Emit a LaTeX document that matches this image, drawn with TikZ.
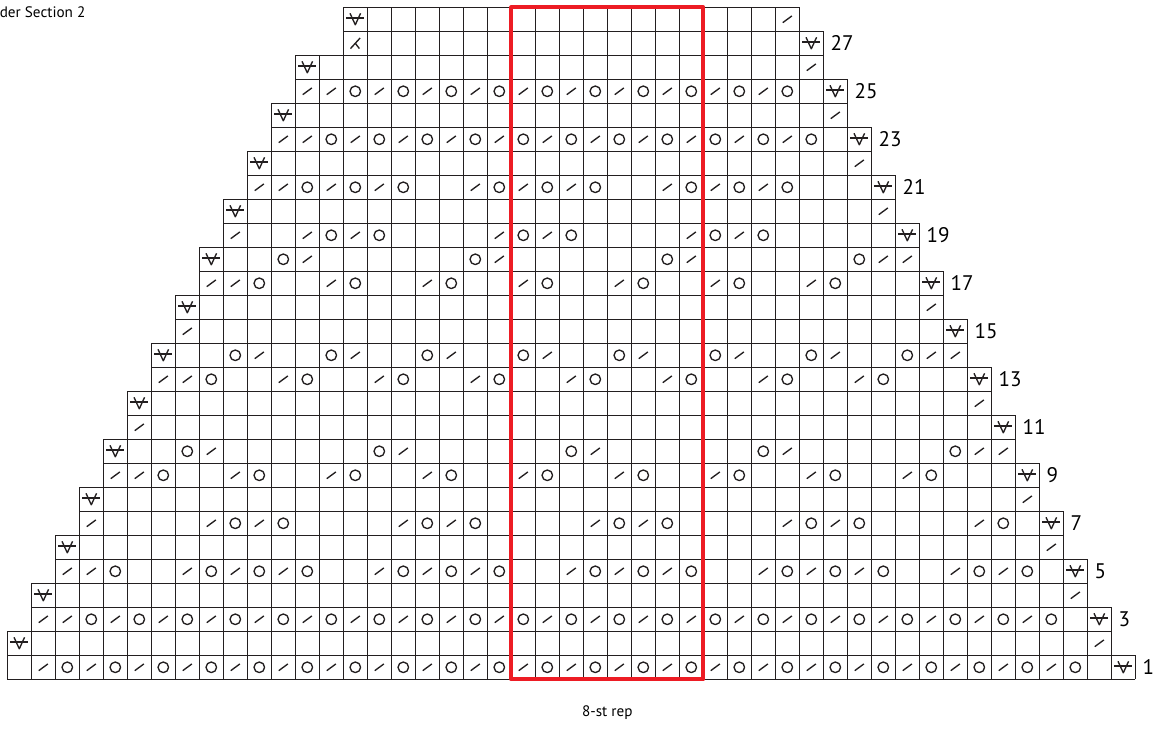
\documentclass[tikz,border=0pt]{standalone}
\usepackage{fontspec}
\setmainfont{PT Sans}
\usepackage{xcolor}
\usepackage{tikz}
\definecolor{chartink}{RGB}{35,31,32}
\definecolor{repred}{RGB}{237,28,36}
% 8-st repeats, 0 empty, 1 dec, 2 yo
\def\repA{{1,2,1,2,1,2,1,2}}
\def\repB{{2,1,2,1,2,1,2,1}}
\def\repC{{0,0,1,2,1,2,1,2}}
\def\repD{{0,0,0,1,2,1,2,0}}
\def\repE{{1,2,0,0,1,2,0,0}}
\def\repF{{0,0,2,1,0,0,0,0}}
\def\repG{{0,0,1,2,0,0,1,2}}
\def\repH{{2,1,0,0,2,1,0,0}}
\def\repI{{0,0,0,0,0,0,2,1}}
\def\repJ{{2,1,2,0,0,0,0,1}}
\def\repK{{1,2,1,2,0,0,1,2}}
\def\repZ{{0,0,0,0,0,0,0,0}}

\begin{document}
\begin{tikzpicture}[line join=round,
    cellgrid/.style={draw=chartink,line width=1.5pt},
    stitch/.style={draw=chartink,line width=1.6pt},
    repbox/.style={draw=repred,line width=4.6pt},
    rowlabel/.style={anchor=west,inner sep=0pt,font=\fontsize{25}{29}\selectfont},
    note/.style={inner sep=0pt,font=\fontsize{18}{21}\selectfont},
    dec/.pic={\draw[stitch] (-.19,-.14) -- (.19,.14);},
    yo/.pic={\draw[stitch] (0,0) circle (.22);},
    slip/.pic={\draw[stitch] (-.22,.25) -- (0,-.23) -- (.22,.25);
               \draw[stitch] (-.37,.05) -- (.37,.05);},
    ddec/.pic={\draw[stitch] (-.2,-.22) -- (.2,.22);
               \draw[stitch] (0,0) -- (.17,-.22);}]
  \useasboundingbox[fill=white] (-.304,-2.033) rectangle (48.029,28.304);
  % row/first col/last col/first st/last st/repeat
  \foreach \rw/\sc/\ec/\fs/\ls/\pat in {
      1/0/46/0/3/A, 2/0/45/3/1/Z, 3/1/45/1/3/B, 4/1/44/3/1/Z,
      5/2/44/1/3/C, 6/2/43/3/1/Z, 7/3/43/1/3/D, 8/3/42/3/1/Z,
      9/4/42/1/3/E, 10/4/41/3/1/F, 11/5/41/1/3/Z, 12/5/40/3/1/Z,
      13/6/40/1/3/G, 14/6/39/3/1/H, 15/7/39/1/3/Z, 16/7/38/3/1/Z,
      17/8/38/1/3/E, 18/8/37/3/1/I, 19/9/37/1/3/J, 20/9/36/3/1/Z,
      21/10/36/1/3/K, 22/10/35/3/1/Z, 23/11/35/1/3/B, 24/11/34/3/1/Z,
      25/12/34/1/3/A, 26/12/33/3/1/Z, 27/14/33/4/3/Z, 28/14/32/3/1/Z}{
    \draw[cellgrid] (\sc,\rw-1) grid (\ec+1,\rw);
    \expandafter\let\expandafter\replist\csname rep\pat\endcsname
    \foreach \col in {\sc,...,\ec}{
      \pgfmathtruncatemacro\pos{mod(\col+3,8)}
      \pgfmathtruncatemacro\sym{\replist[\pos]}
      \ifnum\col=\sc \edef\sym{\fs}\fi
      \ifnum\ls=3 \ifnum\col=\numexpr\ec-1\relax \def\sym{0}\fi\fi
      \ifnum\col=\ec \edef\sym{\ls}\fi
      \ifcase\sym\or
        \pic at (\col+.5,\rw-.5) {dec};\or
        \pic at (\col+.5,\rw-.5) {yo};\or
        \pic at (\col+.5,\rw-.5) {slip};\or
        \pic at (\col+.5,\rw-.5) {ddec};\fi
    }
    \ifnum\ls=3 \node[rowlabel] (row\rw) at (\ec+1.3,\rw-.5) {\rw};\fi
  }
  \draw[repbox] (21,0) rectangle (29,28);
  \node[note,anchor=west] (title) at (-.32,27.8) {der Section 2};
  \node[note] (replabel) at (25,-1.4) {8-st rep};
\end{tikzpicture}
\end{document}
